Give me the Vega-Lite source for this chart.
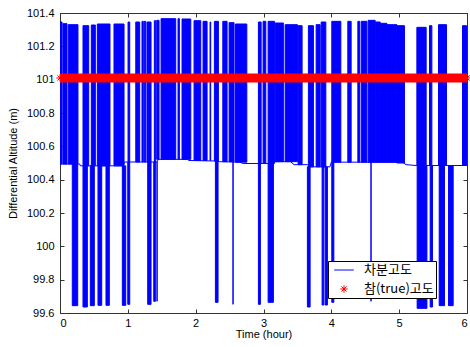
{
  "$schema": "https://vega.github.io/schema/vega-lite/v6.json",
  "width": 407,
  "height": 300,
  "autosize": {"type": "none"},
  "padding": {"left": 60, "top": 13, "right": 3, "bottom": 34},
  "background": "white",
  "config": {
    "view": {"stroke": "#333333", "strokeWidth": 1},
    "axis": {
      "grid": false,
      "domainColor": "#333333",
      "tickColor": "#333333",
      "tickSize": -4,
      "labelFont": "Liberation Sans",
      "labelFontSize": 11,
      "labelColor": "#000000",
      "titleFont": "Liberation Sans",
      "titleFontSize": 11,
      "titleFontWeight": "normal",
      "titleColor": "#000000"
    },
    "legend": {
      "orient": "none", "legendX": 268, "legendY": 248,
      "title": null,
      "fillColor": "white", "strokeColor": "#000000",
      "padding": 2, "rowPadding": 5,
      "symbolOffset": 7, "labelOffset": 13,
      "symbolSize": 150, "symbolStrokeWidth": 1,
      "labelFont": "Noto Sans CJK KR", "labelFontSize": 13, "labelColor": "#000000"
    }
  },
  "datasets": {
    "signal": [
      {"t0": 0, "t1": 0.03, "lo": 100.494, "hi": 101.346},
      {"t0": 0.044, "t1": 0.103, "lo": 100.494, "hi": 101.336},
      {"t0": 0.122, "t1": 0.265, "lo": 100.494, "hi": 101.33},
      {"t0": 0.339, "t1": 0.423, "lo": 100.483, "hi": 101.324},
      {"t0": 0.462, "t1": 0.521, "lo": 100.483, "hi": 101.328},
      {"t0": 0.55, "t1": 0.737, "lo": 100.483, "hi": 101.334},
      {"t0": 0.796, "t1": 0.944, "lo": 100.483, "hi": 101.334},
      {"t0": 1.003, "t1": 1.028, "lo": 100.506, "hi": 101.346},
      {"t0": 1.117, "t1": 1.175, "lo": 100.506, "hi": 101.346},
      {"t0": 1.209, "t1": 1.228, "lo": 100.506, "hi": 101.35},
      {"t0": 1.243, "t1": 1.264, "lo": 100.506, "hi": 101.35},
      {"t0": 1.283, "t1": 1.342, "lo": 100.506, "hi": 101.346},
      {"t0": 1.391, "t1": 1.411, "lo": 100.506, "hi": 101.354},
      {"t0": 1.426, "t1": 1.46, "lo": 100.522, "hi": 101.356},
      {"t0": 1.49, "t1": 1.706, "lo": 100.522, "hi": 101.366},
      {"t0": 1.74, "t1": 1.76, "lo": 100.522, "hi": 101.366},
      {"t0": 1.799, "t1": 1.928, "lo": 100.522, "hi": 101.364},
      {"t0": 1.976, "t1": 2.075, "lo": 100.515, "hi": 101.354},
      {"t0": 2.109, "t1": 2.168, "lo": 100.515, "hi": 101.35},
      {"t0": 2.212, "t1": 2.222, "lo": 100.515, "hi": 101.346},
      {"t0": 2.276, "t1": 2.335, "lo": 100.512, "hi": 101.35},
      {"t0": 2.4, "t1": 2.463, "lo": 100.508, "hi": 101.35},
      {"t0": 2.493, "t1": 2.566, "lo": 100.508, "hi": 101.342},
      {"t0": 2.586, "t1": 2.754, "lo": 100.505, "hi": 101.334},
      {"t0": 2.925, "t1": 2.965, "lo": 100.497, "hi": 101.346},
      {"t0": 2.994, "t1": 3.034, "lo": 100.497, "hi": 101.35},
      {"t0": 3.068, "t1": 3.161, "lo": 100.497, "hi": 101.35},
      {"t0": 3.171, "t1": 3.293, "lo": 100.508, "hi": 101.34},
      {"t0": 3.319, "t1": 3.5, "lo": 100.508, "hi": 101.33},
      {"t0": 3.51, "t1": 3.569, "lo": 100.49, "hi": 101.324},
      {"t0": 3.662, "t1": 3.736, "lo": 100.477, "hi": 101.324},
      {"t0": 3.776, "t1": 3.835, "lo": 100.477, "hi": 101.33},
      {"t0": 3.85, "t1": 3.919, "lo": 100.477, "hi": 101.346},
      {"t0": 4.007, "t1": 4.14, "lo": 100.505, "hi": 101.35},
      {"t0": 4.243, "t1": 4.292, "lo": 100.505, "hi": 101.35},
      {"t0": 4.391, "t1": 4.417, "lo": 100.505, "hi": 101.35},
      {"t0": 4.44, "t1": 4.524, "lo": 100.505, "hi": 101.35},
      {"t0": 4.543, "t1": 4.646, "lo": 100.505, "hi": 101.356},
      {"t0": 4.646, "t1": 4.72, "lo": 100.505, "hi": 101.346},
      {"t0": 4.72, "t1": 4.819, "lo": 100.505, "hi": 101.338},
      {"t0": 4.819, "t1": 4.966, "lo": 100.505, "hi": 101.33},
      {"t0": 4.966, "t1": 5.078, "lo": 100.5, "hi": 101.324},
      {"t0": 5.261, "t1": 5.398, "lo": 100.485, "hi": 101.314},
      {"t0": 5.447, "t1": 5.482, "lo": 100.485, "hi": 101.324},
      {"t0": 5.58, "t1": 5.698, "lo": 100.485, "hi": 101.33},
      {"t0": 5.934, "t1": 5.993, "lo": 100.485, "hi": 101.324},
      {"t0": 0.181, "t1": 0.261, "lo": 99.644, "hi": 100.494},
      {"t0": 0.339, "t1": 0.403, "lo": 99.636, "hi": 100.483},
      {"t0": 0.447, "t1": 0.506, "lo": 99.644, "hi": 100.483},
      {"t0": 0.56, "t1": 0.615, "lo": 99.646, "hi": 100.483},
      {"t0": 0.678, "t1": 0.727, "lo": 99.646, "hi": 100.483},
      {"t0": 0.919, "t1": 0.969, "lo": 99.646, "hi": 100.483},
      {"t0": 0.999, "t1": 1.028, "lo": 99.652, "hi": 100.506},
      {"t0": 1.293, "t1": 1.342, "lo": 99.652, "hi": 100.506},
      {"t0": 1.382, "t1": 1.406, "lo": 99.67, "hi": 100.506},
      {"t0": 1.431, "t1": 1.431, "lo": 99.67, "hi": 100.506},
      {"t0": 2.291, "t1": 2.33, "lo": 99.664, "hi": 100.512},
      {"t0": 2.551, "t1": 2.551, "lo": 99.652, "hi": 100.508},
      {"t0": 2.925, "t1": 2.954, "lo": 99.652, "hi": 100.497},
      {"t0": 3.068, "t1": 3.146, "lo": 99.664, "hi": 100.497},
      {"t0": 3.647, "t1": 3.687, "lo": 99.636, "hi": 100.477},
      {"t0": 3.864, "t1": 3.889, "lo": 99.648, "hi": 100.477},
      {"t0": 3.909, "t1": 3.942, "lo": 99.648, "hi": 100.477},
      {"t0": 4.007, "t1": 4.037, "lo": 99.664, "hi": 100.505},
      {"t0": 4.585, "t1": 4.585, "lo": 99.67, "hi": 100.505},
      {"t0": 5.265, "t1": 5.409, "lo": 99.628, "hi": 100.485},
      {"t0": 5.457, "t1": 5.491, "lo": 99.636, "hi": 100.485},
      {"t0": 5.59, "t1": 5.668, "lo": 99.644, "hi": 100.485},
      {"t0": 5.727, "t1": 5.796, "lo": 99.644, "hi": 100.485}
    ],
    "lowLevel": [
      {"t": 0, "v": 100.494},
      {"t": 0.29, "v": 100.494},
      {"t": 0.3, "v": 100.483},
      {"t": 0.93, "v": 100.483},
      {"t": 0.95, "v": 100.506},
      {"t": 1.43, "v": 100.506},
      {"t": 1.45, "v": 100.522},
      {"t": 1.88, "v": 100.522},
      {"t": 1.9, "v": 100.515},
      {"t": 2.3, "v": 100.512},
      {"t": 2.35, "v": 100.508},
      {"t": 2.65, "v": 100.505},
      {"t": 2.7, "v": 100.497},
      {"t": 3.1, "v": 100.497},
      {"t": 3.15, "v": 100.508},
      {"t": 3.4, "v": 100.508},
      {"t": 3.45, "v": 100.49},
      {"t": 3.65, "v": 100.49},
      {"t": 3.68, "v": 100.477},
      {"t": 3.98, "v": 100.477},
      {"t": 4.0, "v": 100.505},
      {"t": 5.05, "v": 100.505},
      {"t": 5.1, "v": 100.49},
      {"t": 5.25, "v": 100.485},
      {"t": 6.0, "v": 100.485}
    ],
    "trueAlt": [
      {"t": 0, "v": 101.01, "series": "참(true)고도"},
      {"t": 6, "v": 101.01, "series": "참(true)고도"}
    ]
  },
  "layer": [
    {
      "data": {"name": "signal"},
      "mark": {"type": "rect", "fill": "#0000ff", "stroke": "#0000ff", "strokeWidth": 1, "clip": true},
      "encoding": {
        "x": {
          "field": "t0", "type": "quantitative",
          "scale": {"domain": [0, 6], "nice": false, "zero": false},
          "axis": {"orient": "bottom", "title": "Time (hour)", "values": [0, 1, 2, 3, 4, 5, 6], "labelPadding": 8, "titlePadding": 0}
        },
        "x2": {"field": "t1"},
        "y": {
          "field": "lo", "type": "quantitative",
          "scale": {"domain": [99.6, 101.4], "nice": false, "zero": false},
          "axis": {"orient": "left", "title": "Differential Altitude (m)", "values": [99.6, 99.8, 100, 100.2, 100.4, 100.6, 100.8, 101, 101.2, 101.4], "format": "~g", "labelPadding": 10, "titlePadding": 8}
        },
        "y2": {"field": "hi"}
      }
    },
    {
      "data": {"name": "lowLevel"},
      "mark": {"type": "line", "color": "#0000ff", "strokeWidth": 1},
      "encoding": {
        "x": {"field": "t", "type": "quantitative", "axis": {"orient": "top", "labels": false, "title": null, "values": [0, 1, 2, 3, 4, 5, 6]}},
        "y": {"field": "v", "type": "quantitative", "axis": {"orient": "right", "labels": false, "title": null, "values": [99.6, 99.8, 100, 100.2, 100.4, 100.6, 100.8, 101, 101.2, 101.4]}}
      }
    },
    {
      "data": {"name": "trueAlt"},
      "mark": {"type": "line", "color": "#ff0000", "strokeWidth": 9, "strokeCap": "butt", "clip": false},
      "encoding": {
        "x": {"field": "t", "type": "quantitative", "axis": null},
        "y": {"field": "v", "type": "quantitative", "axis": null}
      }
    },
    {
      "data": {"name": "trueAlt"},
      "mark": {"type": "point", "filled": false, "size": 150, "strokeWidth": 1, "opacity": 1, "clip": false},
      "encoding": {
        "x": {"field": "t", "type": "quantitative", "axis": null},
        "y": {"field": "v", "type": "quantitative", "axis": null},
        "color": {
          "field": "series", "type": "nominal",
          "scale": {"domain": ["차분고도", "참(true)고도"], "range": ["#0000ff", "#ff0000"]}
        },
        "shape": {
          "field": "series", "type": "nominal",
          "scale": {"domain": ["차분고도", "참(true)고도"], "range": ["M-1.6,0L1.6,0", "M-0.6,0L0.6,0M0,-0.6L0,0.6M-0.42,-0.42L0.42,0.42M-0.42,0.42L0.42,-0.42"]}
        }
      }
    }
  ],
  "resolve": {"axis": {"x": "independent", "y": "independent"}}
}
